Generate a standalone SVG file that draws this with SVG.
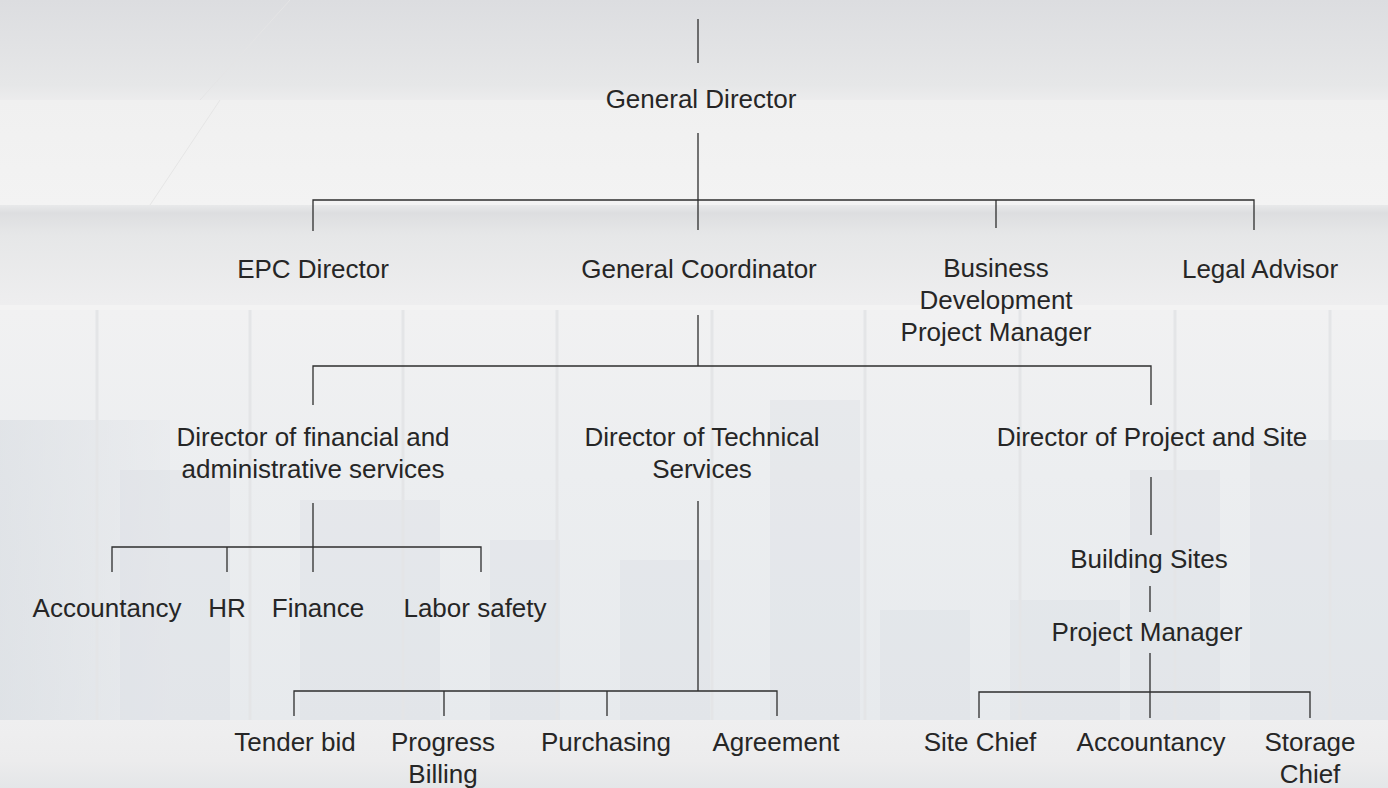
<svg xmlns="http://www.w3.org/2000/svg" width="1388" height="788" viewBox="0 0 1388 788">
<defs>
<linearGradient id="gTop" x1="0" y1="0" x2="0" y2="1">
<stop offset="0" stop-color="#dcdde0"/>
<stop offset="0.85" stop-color="#e6e7e8"/>
<stop offset="1" stop-color="#ececed"/>
</linearGradient>
<linearGradient id="gBand" x1="0" y1="0" x2="0" y2="1">
<stop offset="0" stop-color="#f0f0f0"/>
<stop offset="1" stop-color="#f3f3f3"/>
</linearGradient>
<linearGradient id="gMid" x1="0" y1="0" x2="0" y2="1">
<stop offset="0" stop-color="#e8e9ea"/>
<stop offset="0.08" stop-color="#dddee0"/>
<stop offset="0.3" stop-color="#e6e7e8"/>
<stop offset="1" stop-color="#eeeeef"/>
</linearGradient>
<linearGradient id="gLow" x1="0" y1="0" x2="0" y2="1">
<stop offset="0" stop-color="#f1f1f2"/>
<stop offset="0.4" stop-color="#eceef0"/>
<stop offset="1" stop-color="#e7eaed"/>
</linearGradient>
<linearGradient id="gFloor" x1="0" y1="0" x2="0" y2="1">
<stop offset="0" stop-color="#efeff0"/>
<stop offset="0.6" stop-color="#ececed"/>
<stop offset="1" stop-color="#e4e6e8"/>
</linearGradient>
<linearGradient id="gLeft" x1="0" y1="0" x2="1" y2="0">
<stop offset="0" stop-color="#d9dde2"/>
<stop offset="1" stop-color="#e8eaed"/>
</linearGradient>
</defs>
<style>
.t{font-family:"Liberation Sans",Arial,Helvetica,sans-serif;font-size:26px;fill:#262626;text-anchor:middle}
.c{fill:none;stroke:#2e2e2e;stroke-width:1.3}
.m{stroke:#e4e5e7;stroke-width:3}
.b{fill:#d6dbe1;opacity:0.3}
</style>
<g id="background">
<rect x="0" y="0" width="1388" height="788" fill="#eeeeef"/>
<rect x="0" y="0" width="1388" height="100" fill="url(#gTop)"/>
<rect x="0" y="100" width="1388" height="105" fill="url(#gBand)"/>
<rect x="0" y="205" width="1388" height="100" fill="url(#gMid)"/>
<rect x="0" y="305" width="1388" height="5" fill="#f3f3f3"/>
<rect x="0" y="310" width="1388" height="410" fill="url(#gLow)"/>
<rect x="0" y="420" width="170" height="300" fill="url(#gLeft)" opacity="0.6"/>
<rect class="b" x="120" y="470" width="110" height="250"/>
<rect class="b" x="300" y="500" width="140" height="220"/>
<rect class="b" x="490" y="540" width="70" height="180"/>
<rect class="b" x="620" y="560" width="90" height="160"/>
<rect class="b" x="770" y="400" width="90" height="320"/>
<rect class="b" x="880" y="610" width="90" height="110"/>
<rect class="b" x="1010" y="600" width="110" height="120"/>
<rect class="b" x="1130" y="470" width="90" height="250"/>
<rect class="b" x="1250" y="440" width="138" height="280"/>
<line class="m" x1="97" y1="310" x2="97" y2="720"/>
<line class="m" x1="250" y1="310" x2="250" y2="720"/>
<line class="m" x1="403" y1="310" x2="403" y2="720"/>
<line class="m" x1="557" y1="310" x2="557" y2="720"/>
<line class="m" x1="712" y1="310" x2="712" y2="720"/>
<line class="m" x1="865" y1="310" x2="865" y2="720"/>
<line class="m" x1="1020" y1="310" x2="1020" y2="720"/>
<line class="m" x1="1175" y1="310" x2="1175" y2="720"/>
<line class="m" x1="1330" y1="310" x2="1330" y2="720"/>
<rect x="0" y="720" width="1388" height="68" fill="url(#gFloor)"/>
<line x1="200" y1="100" x2="290" y2="0" stroke="#e4e4e5" stroke-width="1"/>
<line x1="150" y1="205" x2="220" y2="100" stroke="#e6e6e6" stroke-width="1"/>
</g>
<g id="connectors">
<path class="c" d="M698 19V63"/>
<path class="c" d="M698 133V230M313 231V200H1254V230M996 200V228"/>
<path class="c" d="M698 315V366M313 405V366H1151V405"/>
<path class="c" d="M313 503V572M112 572V547H481V572M227 547V572"/>
<path class="c" d="M698 501V691M294 716V691H777V716M444 691V716M607 691V716"/>
<path class="c" d="M1151 477V535M1150 586V612"/>
<path class="c" d="M1150 653V718M979 718V692H1310V718"/>
</g>
<g id="n-general-director"><text class="t" x="701" y="108">General Director</text></g>
<g id="n-epc-director"><text class="t" x="313" y="278">EPC Director</text></g>
<g id="n-general-coordinator"><text class="t" x="699" y="278">General Coordinator</text></g>
<g id="n-business-development"><text class="t" x="996" y="277">Business</text><text class="t" x="996" y="309">Development</text><text class="t" x="996" y="341">Project Manager</text></g>
<g id="n-legal-advisor"><text class="t" x="1260" y="278">Legal Advisor</text></g>
<g id="n-director-financial"><text class="t" x="313" y="446">Director of financial and</text><text class="t" x="313" y="478">administrative services</text></g>
<g id="n-director-technical"><text class="t" x="702" y="446">Director of Technical</text><text class="t" x="702" y="478">Services</text></g>
<g id="n-director-project-site"><text class="t" x="1152" y="446">Director of Project and Site</text></g>
<g id="n-accountancy-1"><text class="t" x="107" y="617">Accountancy</text></g>
<g id="n-hr"><text class="t" x="227" y="617">HR</text></g>
<g id="n-finance"><text class="t" x="318" y="617">Finance</text></g>
<g id="n-labor-safety"><text class="t" x="475" y="617">Labor safety</text></g>
<g id="n-building-sites"><text class="t" x="1149" y="568">Building Sites</text></g>
<g id="n-project-manager"><text class="t" x="1147" y="641">Project Manager</text></g>
<g id="n-tender-bid"><text class="t" x="295" y="751">Tender bid</text></g>
<g id="n-progress-billing"><text class="t" x="443" y="751">Progress</text><text class="t" x="443" y="783">Billing</text></g>
<g id="n-purchasing"><text class="t" x="606" y="751">Purchasing</text></g>
<g id="n-agreement"><text class="t" x="776" y="751">Agreement</text></g>
<g id="n-site-chief"><text class="t" x="980" y="751">Site Chief</text></g>
<g id="n-accountancy-2"><text class="t" x="1151" y="751">Accountancy</text></g>
<g id="n-storage-chief"><text class="t" x="1310" y="751">Storage</text><text class="t" x="1310" y="783">Chief</text></g>
</svg>
